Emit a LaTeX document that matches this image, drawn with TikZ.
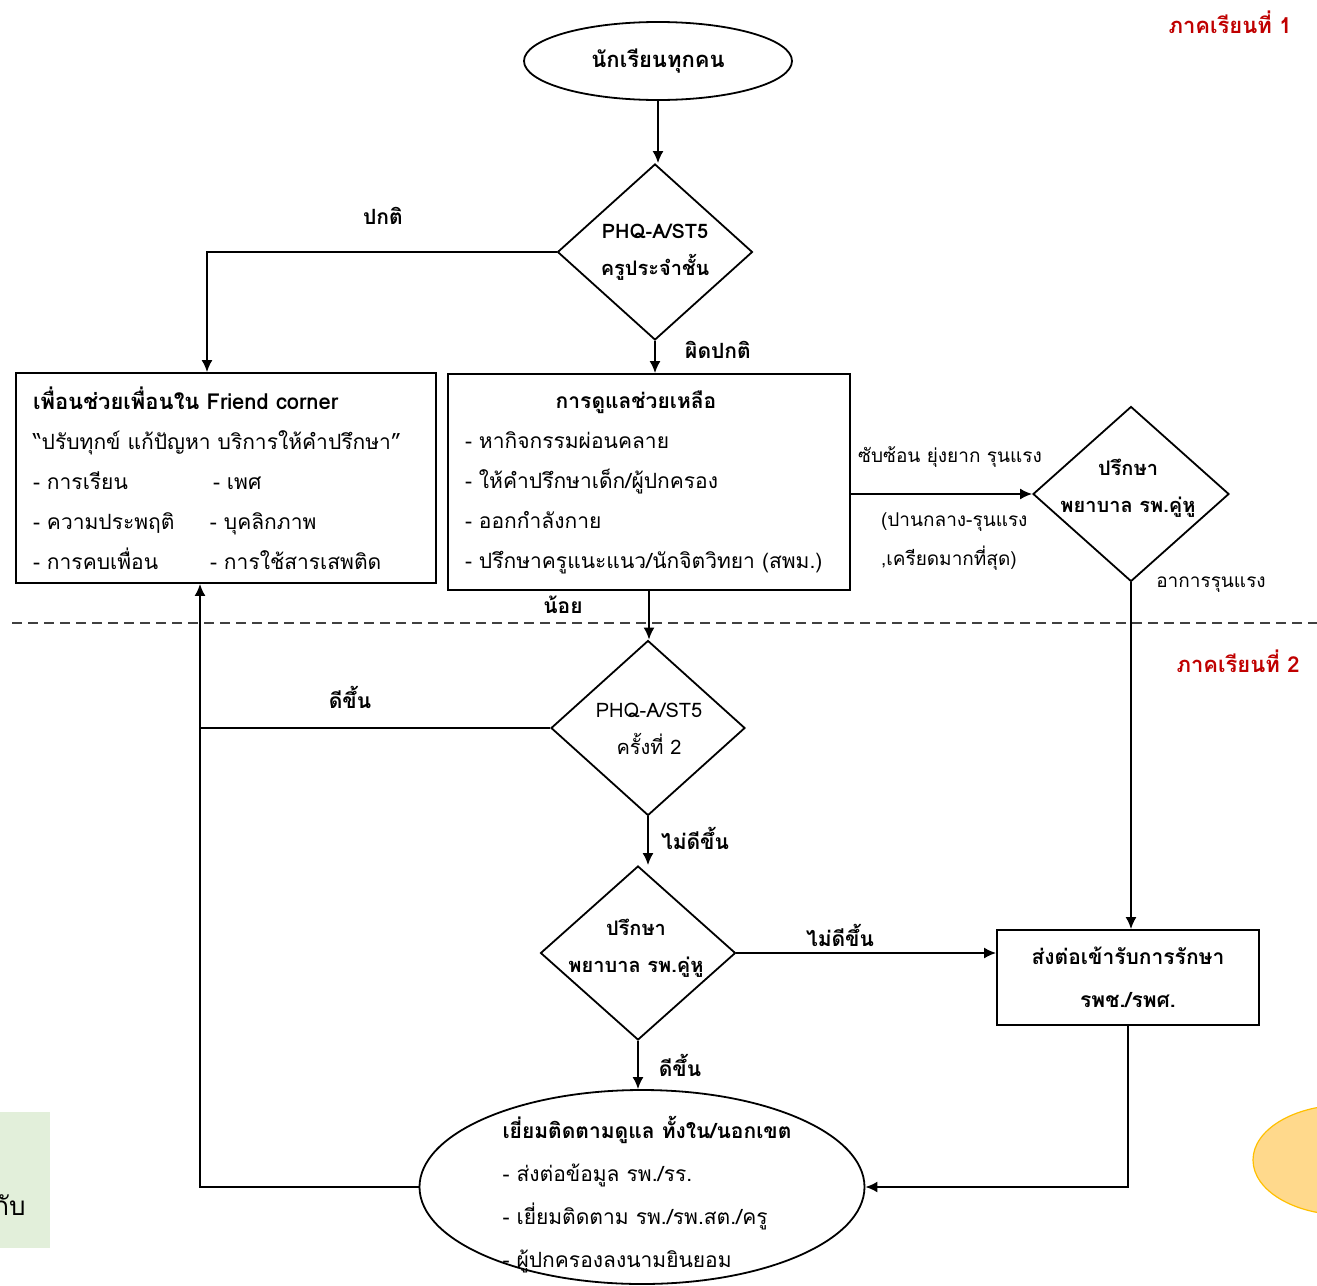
\documentclass[tikz,border=0pt]{standalone}
\usepackage{fontspec}
\setmainfont[Script=Thai]{Loma}
\usetikzlibrary{shapes.geometric,arrows.meta,calc}
\definecolor{semred}{HTML}{C00000}
\definecolor{greenbg}{HTML}{E2EFDA}
\definecolor{orfill}{HTML}{FFD98C}
\definecolor{orline}{HTML}{FFC000}
\definecolor{dashgray}{HTML}{404040}
\tikzset{
  ln/.style={draw, line width=0.9pt},
  arr/.style={ln, -{Latex[length=6pt,width=5.5pt]}},
  box/.style={draw, line width=0.9pt, rectangle, inner sep=0pt},
  dia/.style={draw, diamond, line width=0.9pt, inner sep=0pt, aspect=1.1},
  dtxt/.style={align=center, font=\bfseries\fontsize{10}{18.5}\selectfont},
  txt/.style={font=\fontsize{10.5}{20}\selectfont},
  lbl/.style={font=\bfseries\fontsize{10.5}{12}\selectfont},
  sml/.style={font=\fontsize{9.5}{19.5}\selectfont},
  sem/.style={text=semred, font=\bfseries\fontsize{11}{13}\selectfont}
}
\begin{document}
\begin{tikzpicture}[x=0.5pt,y=-0.5pt]
\useasboundingbox (0,0) rectangle (1317,1285);
\fill[white] (0,0) rectangle (1317,1285);

% decorations clipped to the page
\begin{scope}
\clip (0,0) rectangle (1317,1285);
\fill[greenbg] (0,1112) rectangle (50,1248);
\node[anchor=east, font=\fontsize{13}{15}\selectfont, inner sep=0pt] (gtxt) at (26,1205) {กับ};
\draw[orline, fill=orfill, line width=0.6pt] (1345,1160) ellipse [x radius=46pt, y radius=27.5pt];
\end{scope}

% semester labels
\node[sem] (s1) at (1230,22) {ภาคเรียนที่ 1};
\node[sem] (s2) at (1238,661) {ภาคเรียนที่ 2};
\draw[dashgray, line width=0.8pt, dash pattern=on 5pt off 3pt] (12,623) -- (1317,623);

% nodes
\node[draw, ellipse, line width=0.9pt, minimum width=134pt, minimum height=39pt,
      font=\bfseries\fontsize{11}{13}\selectfont] (start) at (658,61) {นักเรียนทุกคน};

\node[dia, minimum width=97.5pt, minimum height=88pt] (d1) at (655,252) {};
\node[dtxt] (d1t) at (655,252) {PHQ-A/ST5\\ครูประจำชั้น};

\node[box, minimum width=210pt, minimum height=105pt, text width=193pt,
      inner xsep=8.5pt, align=left, txt] (lbox) at (226,478)
  {\textbf{\fontsize{11}{20}\selectfont เพื่อนช่วยเพื่อนใน Friend corner}\\
   “ปรับทุกข์ แก้ปัญหา บริการให้คำปรึกษา”\\
   \makebox[90pt][l]{- การเรียน}- เพศ\\
   \makebox[88.5pt][l]{- ความประพฤติ}- บุคลิกภาพ\\
   \makebox[88.5pt][l]{- การคบเพื่อน}- การใช้สารเสพติด};

\node[box, minimum width=201pt, minimum height=108pt, text width=184pt,
      inner xsep=8.5pt, align=left, txt] (mbox) at (649,482)
  {\makebox[171pt][c]{\textbf{การดูแลช่วยเหลือ}}\\
   - หากิจกรรมผ่อนคลาย\\
   - ให้คำปรึกษาเด็ก/ผู้ปกครอง\\
   - ออกกำลังกาย\\
   - ปรึกษาครูแนะแนว/นักจิตวิทยา (สพม.)};

\node[dia, minimum width=98pt, minimum height=87.5pt] (d3) at (1131,494) {};
\node[dtxt] (d3t) at (1128,488) {ปรึกษา\\พยาบาล รพ.คู่หู};

\node[dia, minimum width=97pt, minimum height=87.5pt] (d2) at (648,728) {};
\node[dtxt, font=\fontsize{10}{18.5}\selectfont] (d2t) at (649,729) {PHQ-A/ST5\\ครั้งที่ 2};

\node[dia, minimum width=97.5pt, minimum height=87pt] (d4) at (638,953) {};
\node[dtxt] (d4t) at (636,948) {ปรึกษา\\พยาบาล รพ.คู่หู};

\node[box, minimum width=131pt, minimum height=47.5pt, align=center,
      font=\bfseries\fontsize{10.5}{21.5}\selectfont] (rbox) at (1128,977.5)
  {ส่งต่อเข้ารับการรักษา\\รพช./รพศ.};

\node[draw, ellipse, line width=0.9pt, minimum width=222.5pt, minimum height=97pt] (bell) at (642,1187) {};
\node[align=left, font=\fontsize{10.5}{21.5}\selectfont] (bellt) at (647,1195)
  {\textbf{เยี่ยมติดตามดูแล ทั้งใน/นอกเขต}\\
   - ส่งต่อข้อมูล รพ./รร.\\
   - เยี่ยมติดตาม รพ./รพ.สต./ครู\\
   - ผู้ปกครองลงนามยินยอม};

% edge labels
\node[lbl] (l1) at (383,216) {ปกติ};
\node[lbl] (l2) at (718,350) {ผิดปกติ};
\node[sml] (l3) at (950,457) {ซับซ้อน ยุ่งยาก รุนแรง};
\node[sml, align=left, anchor=west] (l4) at (874,542) {(ปานกลาง-รุนแรง\\,เครียดมากที่สุด)};
\node[sml] (l5) at (1211,585) {อาการรุนแรง};
\node[lbl] (l6) at (563,605) {น้อย};
\node[lbl] (l7) at (350,697) {ดีขึ้น};
\node[lbl] (l8) at (695,838) {ไม่ดีขึ้น};
\node[lbl] (l9) at (840,935) {ไม่ดีขึ้น};
\node[lbl] (l10) at (680,1065) {ดีขึ้น};

% connectors
\coordinate (fb) at (200,728);
\draw[arr] (start.south) -- (start.south |- d1.north);
\draw[arr] (d1.west) -| ($(lbox.north)+(-19,0)$);
\draw[arr] (d1.south) -- (d1.south |- mbox.north);
\draw[arr] (d3.west -| mbox.east) -- (d3.west);
\draw[arr] (d3.south) -- (d3.south |- rbox.north);
\draw[arr] (mbox.south) -- (mbox.south |- d2.north);
\draw[ln] (d2.west) -- (d2.west -| fb);
\draw[arr] (bell.west) -| ($(lbox.south)+(-26,0)$);
\draw[arr] (d2.south) -- (d2.south |- d4.north);
\draw[arr] (d4.east) -- (d4.east -| rbox.west);
\draw[arr] (d4.south) -- (d4.south |- bell.north);
\draw[arr] (rbox.south) |- (bell.east);
\end{tikzpicture}
\end{document}
